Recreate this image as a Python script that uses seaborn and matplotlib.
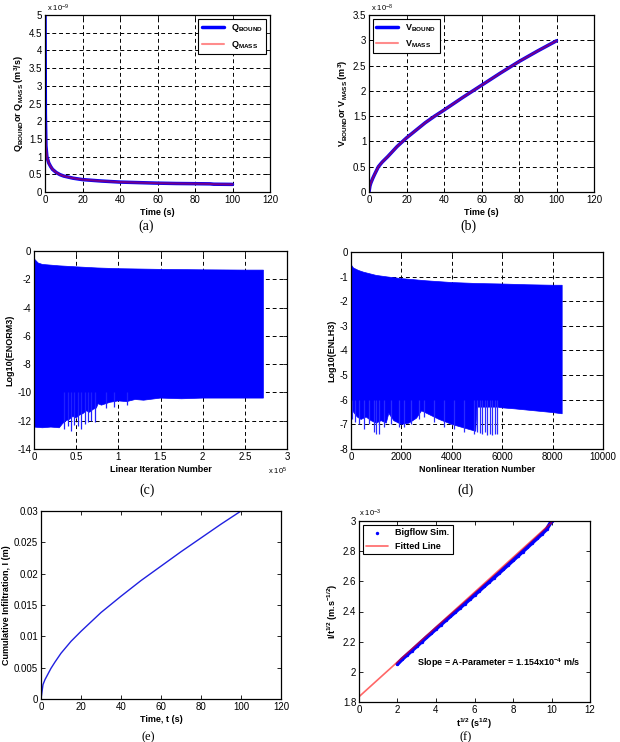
import seaborn as sns
import matplotlib.pyplot as plt
import numpy as np
from matplotlib.ticker import MultipleLocator, FormatStrFormatter

# (a) flow rate, x 1e-9 m3/s
t_a = [0, 0.2, 0.5, 1, 2, 3, 4, 6, 8, 10, 15, 20, 30, 40, 50, 60, 70, 80, 88, 90, 100]
q_bound = [5.2, 2.2, 1.3, 1.0, 0.82, 0.72, 0.64, 0.55, 0.49, 0.45, 0.39, 0.35, 0.31, 0.28,
           0.265, 0.25, 0.24, 0.235, 0.23, 0.22, 0.215]
q_mass = [2.2, 1.6, 1.25, 1.0, 0.82, 0.72, 0.64, 0.55, 0.49, 0.45, 0.39, 0.35, 0.31, 0.28,
          0.265, 0.25, 0.24, 0.235, 0.23, 0.22, 0.215]

# (b) volume, x 1e-8 m3
t_b = [0, 0.5, 1, 2, 3, 5, 7, 10, 15, 20, 25, 30, 35, 40, 50, 60, 70, 80, 90, 100]
v_bound = [0, 0.12, 0.18, 0.27, 0.35, 0.5, 0.59, 0.7, 0.9, 1.07, 1.22, 1.37, 1.5, 1.62, 1.87,
           2.11, 2.35, 2.58, 2.79, 2.99]

# (c) linear iterations (x 1e5), envelope of log10(ENORM3)
c_top_x = [0, 0.01, 0.05, 0.1, 0.2, 0.3, 0.5, 0.75, 1.0, 1.5, 2.0, 2.5, 2.72]
c_top = [-0.3, -0.6, -0.85, -0.95, -1.0, -1.05, -1.12, -1.2, -1.25, -1.3, -1.33, -1.35, -1.35]
c_bot_x = [0, 0.1, 0.2, 0.3, 0.34, 0.38, 0.42, 0.46, 0.5, 0.54, 0.58, 0.62, 0.66, 0.7, 0.74,
           0.76, 0.8, 0.9, 1.0, 1.1, 1.2, 1.3, 1.5, 1.75, 2.0, 2.5, 2.72]
c_bot = [-12.45, -12.5, -12.45, -12.5, -12.2, -12.0, -11.9, -11.7, -11.8, -11.6, -11.5, -11.3,
         -11.4, -11.2, -11.1, -10.8, -10.9, -10.7, -10.6, -10.65, -10.5, -10.55, -10.4, -10.45,
         -10.4, -10.4, -10.4]
c_spike_x = [0.36, 0.4, 0.44, 0.48, 0.52, 0.56, 0.6, 0.64, 0.68, 0.72, 0.85, 0.95, 1.1]
c_spike_lo = [-12.6, -12.4, -12.7, -12.3, -12.4, -12.6, -12.2, -12.1, -12.0, -12.1, -11.1, -11.0, -10.9]

# (d) nonlinear iterations, envelope of log10(ENLH3)
d_top_x = [0, 30, 100, 300, 500, 1000, 1500, 2000, 3000, 4000, 5000, 6000, 7000, 8000, 8380]
d_top = [-0.5, -0.55, -0.65, -0.75, -0.82, -0.95, -1.02, -1.08, -1.17, -1.24, -1.28, -1.3,
         -1.33, -1.35, -1.35]
d_bot_x = [0, 100, 250, 400, 600, 800, 1000, 1200, 1400, 1500, 1700, 2000, 2300, 2600, 2800,
           3000, 3500, 4000, 4500, 4950, 5000, 5400, 5850, 5900, 6500, 7000, 7500, 8000, 8380]
d_bot = [-6.3, -6.5, -6.7, -6.8, -6.7, -6.85, -6.95, -6.85, -6.95, -6.55, -6.85, -7.0, -6.95,
         -6.75, -6.45, -6.55, -6.8, -7.0, -7.15, -7.28, -6.3, -6.3, -6.3, -6.32, -6.37, -6.42,
         -6.47, -6.52, -6.57]
d_spike_x = [50, 150, 300, 500, 700, 900, 1000, 1100, 1300, 1600, 1900, 2100, 2400, 2700, 2900,
             3300, 3700, 4100, 4500, 4900, 5000, 5100, 5200, 5300, 5400, 5500, 5600, 5700, 5800]
d_spike_lo = [-6.8, -6.9, -7.0, -7.2, -7.0, -7.3, -7.4, -7.4, -7.1, -7.0, -7.1, -7.1, -7.0, -6.8,
              -6.7, -6.9, -7.1, -7.2, -7.3, -7.4, -7.3, -7.35, -7.4, -7.3, -7.45, -7.4, -7.45,
              -7.4, -7.4]

# (e) cumulative infiltration
t_e = [0, 1, 2, 3, 5, 7, 10, 15, 20, 25, 30, 35, 40, 50, 60, 70, 80, 90, 100]
i_e = [0, 0.0023, 0.0031, 0.0037, 0.0049, 0.0059, 0.0073, 0.0092, 0.0108, 0.0123, 0.0138,
       0.0151, 0.0164, 0.0189, 0.0212, 0.0235, 0.0257, 0.0279, 0.030]

# (f) I/t^0.5 vs t^0.5, x 1e-3
sqrt_t = [2.0, 2.25, 2.5, 2.75, 3.0, 3.25, 3.5, 3.75, 4.0, 4.25, 4.5, 4.75, 5.0, 5.25, 5.5,
          5.75, 6.0, 6.25, 6.5, 6.75, 7.0, 7.25, 7.5, 7.75, 8.0, 8.25, 8.5, 8.75, 9.0, 9.25,
          9.5, 9.75, 10.0]
i_over_sqrt = [2.052, 2.085, 2.113, 2.141, 2.170, 2.199, 2.228, 2.256, 2.285, 2.313, 2.341,
               2.369, 2.397, 2.425, 2.453, 2.481, 2.510, 2.538, 2.567, 2.595, 2.624, 2.652,
               2.681, 2.710, 2.739, 2.768, 2.797, 2.826, 2.856, 2.885, 2.915, 2.946, 2.998]
fit_x = [0, 10]
fit_y = [1.835, 2.989]

sns.set_style('ticks')
plt.rcParams['font.family'] = ['Liberation Sans', 'DejaVu Sans']
plt.rcParams.update({
    'mathtext.fontset': 'custom',
    'mathtext.rm': 'Liberation Sans',
    'mathtext.bf': 'Liberation Sans:bold',
    'mathtext.it': 'Liberation Sans:italic',
    'axes.unicode_minus': False,
    'xtick.direction': 'in', 'ytick.direction': 'in',
    'xtick.top': True, 'ytick.right': True,
    'xtick.major.size': 3, 'ytick.major.size': 3,
    'xtick.major.width': 0.6, 'ytick.major.width': 0.6,
    'xtick.major.pad': 2.5, 'ytick.major.pad': 2,
    'xtick.labelsize': 7, 'ytick.labelsize': 7,
    'axes.edgecolor': 'black', 'axes.linewidth': 0.9,
    'xtick.color': 'black', 'ytick.color': 'black',
    'text.color': 'black', 'axes.labelcolor': 'black',
})

W, H = 620, 742
fig = plt.figure(figsize=(6.2, 7.42), dpi=100)


def make_ax(left, top, right, bottom):
    return fig.add_axes([left / W, 1 - bottom / H, (right - left) / W, (bottom - top) / H])


def style(ax, xlim, ylim, xstep, ystep, xlabel, ylabel, grid=True, xpad=2):
    ax.set_xlim(xlim)
    ax.set_ylim(ylim)
    ax.xaxis.set_major_locator(MultipleLocator(xstep))
    ax.yaxis.set_major_locator(MultipleLocator(ystep))
    ax.xaxis.set_major_formatter(FormatStrFormatter('%g'))
    ax.yaxis.set_major_formatter(FormatStrFormatter('%g'))
    ax.set_xlabel(xlabel, fontsize=6.5, fontweight='bold', labelpad=xpad)
    ax.set_ylabel(ylabel, fontsize=6.5, fontweight='bold', labelpad=2)
    if grid:
        ax.grid(True, linestyle=(0, (4, 3)), color='black', linewidth=0.7)
        ax.set_axisbelow(True)


def legend(ax, loc):
    lg = ax.legend(loc=loc, fontsize=6.5, frameon=True, fancybox=False, edgecolor='black',
                   framealpha=1, handlelength=2.4, borderaxespad=0.4, borderpad=0.4,
                   labelspacing=0.5)
    lg.get_frame().set_linewidth(0.8)
    for t in lg.get_texts():
        t.set_fontweight('bold')


# (a)
ax = make_ax(45, 15, 270, 192)
sns.lineplot(x=t_a, y=q_bound, ax=ax, color='blue', linewidth=2.5, label=r'Q$_\mathbf{BOUND}$')
sns.lineplot(x=t_a, y=q_mass, ax=ax, color='red', alpha=0.45, linewidth=1.5, label=r'Q$_\mathbf{MASS}$')
style(ax, (0, 120), (0, 5), 20, 0.5, 'Time (s)',
      r'Q$_\mathbf{BOUND}$or Q$_\mathbf{MASS}$ (m$^\mathbf{3}$/s)')
legend(ax, 'upper right')
ax.text(0.01, 1.005, r'x 10$^{-9}$', transform=ax.transAxes, fontsize=5.5, va='bottom')

# (b)
ax = make_ax(369, 15, 594, 192)
sns.lineplot(x=t_b, y=v_bound, ax=ax, color='blue', linewidth=2.5, label=r'V$_\mathbf{BOUND}$')
sns.lineplot(x=t_b, y=v_bound, ax=ax, color='red', alpha=0.45, linewidth=1.5, label=r'V$_\mathbf{MASS}$')
style(ax, (0, 120), (0, 3.5), 20, 0.5, 'Time (s)',
      r'V$_\mathbf{BOUND}$or V$_\mathbf{MASS}$ (m$^\mathbf{3}$)')
legend(ax, 'upper left')
ax.text(0.01, 1.005, r'x 10$^{-8}$', transform=ax.transAxes, fontsize=5.5, va='bottom')

# (c)
ax = make_ax(34, 251, 287, 449)
ax.fill(c_top_x + c_bot_x[::-1], c_top + c_bot[::-1], color='blue', linewidth=0.5)
ax.vlines(c_spike_x, c_spike_lo, -10.0, color='#2020ff', linewidth=0.9)
style(ax, (0, 3), (-14, 0), 0.5, 2, 'Linear Iteration Number', 'Log10(ENORM3)')
ax.text(1.0, -0.115, r'x 10$^{5}$', transform=ax.transAxes, fontsize=5.5, ha='right', va='center')

# (d)
ax = make_ax(351, 252, 603, 449)
ax.fill(d_top_x + d_bot_x[::-1], d_top + d_bot[::-1], color='blue', linewidth=0.5)
ax.vlines(d_spike_x, d_spike_lo, -6.0, color='#2a2aff', linewidth=0.9)
style(ax, (0, 10000), (-8, 0), 2000, 1, 'Nonlinear Iteration Number', 'Log10(ENLH3)')

# (e)
ax = make_ax(41, 511, 281, 699)
sns.lineplot(x=t_e, y=i_e, ax=ax, color='#2020e0', linewidth=1.0)
style(ax, (0, 120), (0, 0.03), 20, 0.005, 'Time, t (s)', 'Cumulative Infiltration, I (m)', grid=False)

# (f)
ax = make_ax(359, 521, 590, 702)
sns.lineplot(x=sqrt_t, y=i_over_sqrt, ax=ax, color='blue', linewidth=2.8)
sns.scatterplot(x=sqrt_t, y=i_over_sqrt, ax=ax, color='blue', s=6, linewidth=0, label='Bigflow Sim.')
sns.lineplot(x=fit_x, y=fit_y, ax=ax, color='red', alpha=0.6, linewidth=1.2, label='Fitted Line')
style(ax, (0, 12), (1.8, 3.0), 2, 0.2, r't$^\mathbf{1/2}$ (s$^\mathbf{1/2}$)',
      r'I/t$^\mathbf{1/2}$ (m.s$^\mathbf{-1/2}$)', grid=False, xpad=1)
legend(ax, 'upper left')
ax.text(3.0, 2.06, r'Slope = A-Parameter = 1.154x10$^\mathbf{-4}$ m/s', fontsize=6.5,
        fontweight='bold', va='center')
ax.text(0.0, 1.01, r'x 10$^{-3}$', transform=ax.transAxes, fontsize=5.5, va='bottom')

for lab, x, y, fs in [('(a)', 146, 226, 10), ('(b)', 468, 226, 10), ('(c)', 147, 490, 10),
                      ('(d)', 465, 490, 10), ('(e)', 148, 737, 9), ('(f)', 466, 737, 9)]:
    fig.text(x / W, 1 - y / H, lab, fontsize=fs, family='Liberation Serif', ha='center', va='center')

fig.savefig('out.png', dpi=100)
